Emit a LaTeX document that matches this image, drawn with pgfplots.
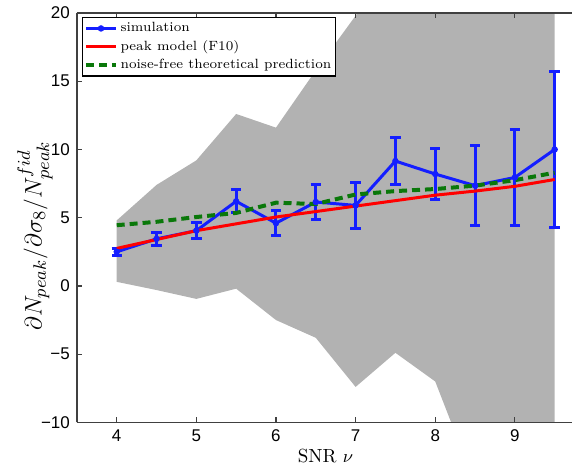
\documentclass[border=0pt]{standalone}
\usepackage{fontspec}
\setsansfont{Liberation Sans}
\usepackage{pgfplots}
\pgfplotsset{compat=1.18}
\definecolor{simblue}{RGB}{20,30,255}
\definecolor{nfgreen}{RGB}{10,120,10}
\pgfplotsset{
  simleg/.style={legend image code/.code={\draw[##1, mark repeat=2, mark phase=2] plot coordinates {(0pt,0pt) (7.5pt,0pt) (15pt,0pt)};}},
  lineleg/.style={legend image code/.code={\draw[##1] (0pt,0pt) -- (15pt,0pt);}},
}
\begin{document}
\begin{tikzpicture}
\begin{axis}[
  scale only axis, width=248pt, height=205pt,
  xmin=3.5, xmax=9.72, ymin=-10, ymax=20,
  axis x line=box, axis y line=left, axis line style={-, black!75, line width=0.8pt},
  tick align=inside, major tick length=2.5pt,
  tick style={black!75, line width=0.6pt},
  xtick={4,5,6,7,8,9}, ytick={-10,-5,0,5,10,15,20},
  yticklabels={−10,−5,0,5,10,15,20},
  xticklabels={4,5,6,7,8,9},
  tick label style={font=\sffamily\fontsize{8.5}{9}\selectfont},
  xlabel={SNR $\nu$},
  xlabel style={font=\fontsize{9.5}{11}\selectfont, at={(axis description cs:0.502,0)}, anchor=center, yshift=-17pt},
  ylabel={$\partial N_{peak}/\partial\sigma_8/N_{peak}^{fid}$},
  ylabel style={font=\fontsize{13}{14}\selectfont, at={(axis description cs:0,0.456)}, anchor=center, yshift=21pt},
  axis on top,
  legend style={at={(axis description cs:0.01,0.99)}, anchor=north west, font=\fontsize{6.7}{7}\selectfont,
    draw=black, line width=0.6pt, inner sep=0.8pt, row sep=0pt, cells={anchor=west},
    nodes={inner sep=1.3pt, text height=5pt, text depth=1.6pt}},
]
\coordinate (ll) at (rel axis cs:0,0);
% gray band
\addplot[fill=black!30, draw=none, forget plot] coordinates {
 (4,4.8) (4.5,7.4) (5,9.2) (5.5,12.6) (6,11.6) (6.5,15.8) (7,19.8) (7.5,24) (8,28) (8.5,30) (9,30) (9.5,30)
 (9.5,-30) (9,-30) (8.5,-14.5) (8,-7.0) (7.5,-4.9) (7,-7.4) (6.5,-3.8) (6,-2.5) (5.5,-0.2) (5,-0.95) (4.5,-0.3) (4,0.3)
} -- cycle;
% simulation
\addplot[color=simblue, line width=1.5pt, mark=*, mark size=1.4pt, mark options={line width=0.4pt}, simleg,
  error bars/.cd, y dir=both, y explicit,
  error bar style={line width=1.5pt, color=simblue},
  error mark options={rotate=90, mark size=2.6pt, line width=1.5pt, color=simblue}]
 coordinates {
 (4,2.5) +- (0,0.25)
 (4.5,3.45) +- (0,0.5)
 (5,4.05) +- (0,0.6)
 (5.5,6.2) +- (0,0.85)
 (6,4.6) +- (0,0.9)
 (6.5,6.15) +- (0,1.25)
 (7,5.9) +- (0,1.7)
 (7.5,9.15) +- (0,1.75)
 (8,8.2) +- (0,1.9)
 (8.5,7.35) +- (0,2.95)
 (9,7.95) +- (0,3.5)
 (9.5,10.0) +- (0,5.7)
};
\addlegendentry{simulation}
% peak model
\addplot[color=red, line width=1.5pt, lineleg] coordinates {
 (4,2.75) (4.5,3.4) (5,4.05) (5.5,4.55) (6,5.05) (6.5,5.45) (7,5.85) (7.5,6.25) (8,6.65) (8.5,6.95) (9,7.3) (9.5,7.8)
};
\addlegendentry{peak model (F10)}
% noise-free
\addplot[color=nfgreen, line width=2pt, dash pattern=on 4pt off 2.5pt, lineleg] coordinates {
 (4,4.45) (4.5,4.7) (5,5.05) (5.5,5.35) (6,6.1) (6.5,6.0) (7,6.7) (7.5,6.95) (8,7.1) (8.5,7.35) (9,7.75) (9.5,8.3)
};
\addlegendentry{noise-free theoretical prediction}
\end{axis}
\path (ll) ++(-38.5pt,-22.5pt) rectangle ++(286.5pt,234pt);
\end{tikzpicture}
\end{document}
